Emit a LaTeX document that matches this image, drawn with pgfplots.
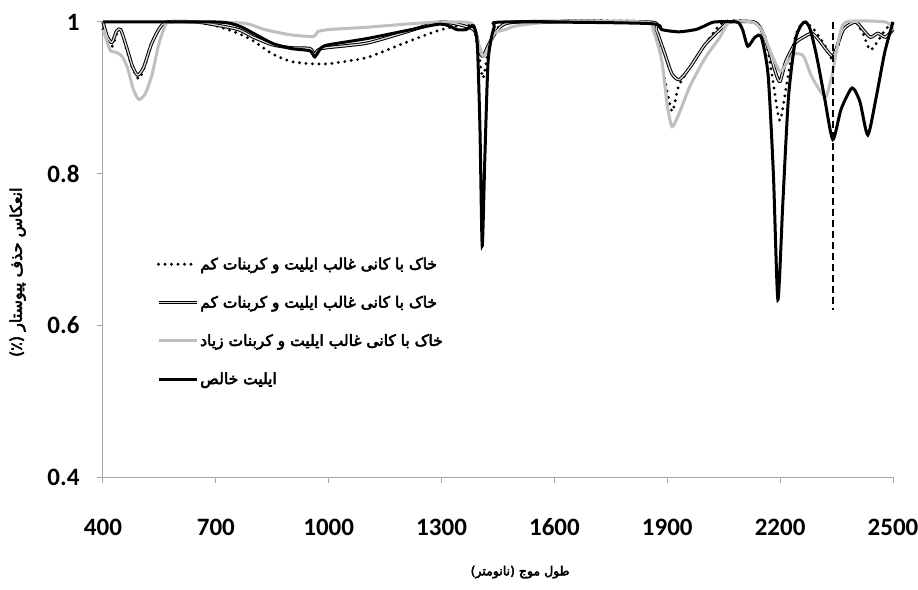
\documentclass[border=0pt]{standalone}
\usepackage{fontspec}
\usepackage{pgfplots}
\pgfplotsset{compat=1.18}
\setmainfont{Carlito}
\newfontfamily\arabicfont[Script=Arabic,FakeBold=3.5]{DejaVu Sans}
\TeXXeTstate=1
\definecolor{lgray}{HTML}{BFBFBF}
\definecolor{axgray}{HTML}{A6A6A6}
\newcommand{\fa}[1]{{\arabicfont\beginR #1\endR}}

\begin{document}
\begin{tikzpicture}
\useasboundingbox (-103pt,-112pt) rectangle (815pt,477pt);
\begin{axis}[scale only axis,width=790pt,height=455pt,
 xmin=400,xmax=2500,ymin=0.4,ymax=1,
 axis lines=left,axis line style={-,axgray,line width=1pt},
 tick style={axgray,line width=1pt},tick align=outside,major tick length=6pt,
 xtick={400,700,1000,1300,1600,1900,2200,2500},
 xticklabels={400,700,1000,1300,1600,1900,2200,2500},
 ytick={0.4,0.6,0.8,1},yticklabels={0.4,0.6,0.8,1},
 ticklabel style={font=\fontsize{25}{25}\selectfont\bfseries},
 xticklabel style={anchor=north,yshift=-32pt,text height=17pt,text depth=0pt},
 yticklabel style={xshift=-14pt},
 /pgf/number format/assume math mode=true,
 clip=false,
 legend cell align=left,
 legend style={draw=none,fill=none,at={(axis description cs:0.068,0.487)},anchor=north west,
   font=\fontsize{15.5}{17}\selectfont,row sep=21pt,inner sep=0pt},
 legend image code/.code={\draw[#1] (0pt,0pt) -- (38pt,0pt);},
 every axis plot/.append style={smooth,tension=0.4},
]
% sample 1: low carbonate (dotted)
\addplot[black,line width=3.2pt,line cap=round,dash pattern=on 0pt off 6.5pt] coordinates {
(400,0.99) (412,0.975) (425,0.968) (437,0.985) (447,0.99) (462,0.965) (478,0.94) (495,0.925)
(510,0.94) (528,0.97) (548,0.99) (570,1.0) (650,1.0) (700,0.995) (760,0.985) (800,0.975)
(850,0.958) (900,0.948) (950,0.945) (1000,0.945) (1100,0.953) (1200,0.972) (1300,0.99)
(1380,0.995) (1398,0.96) (1410,0.926) (1424,0.96) (1445,0.99) (1500,1.0) (1850,1.0)
(1875,0.975) (1895,0.92) (1913,0.882) (1930,0.915) (1960,0.94) (2000,0.97) (2050,1.0)
(2130,1.0) (2160,0.98) (2180,0.925) (2199,0.87) (2218,0.92) (2240,0.98) (2262,1.0)
(2290,0.99) (2320,0.968) (2342,0.95) (2368,0.99) (2400,1.0) (2420,0.985) (2439,0.963)
(2460,0.975) (2480,0.99) (2500,1.0)};
\addlegendentry{\fa{خاک با کانی غالب ایلیت و کربنات کم}}
% sample 2: low carbonate (double line)
\addplot[black,line width=1pt,double=lgray!60,double distance=1.3pt] coordinates {
(400,1.0) (412,0.98) (424,0.973) (436,0.988) (447,0.99) (462,0.968) (478,0.942) (492,0.93)
(508,0.94) (528,0.97) (548,0.99) (570,1.0) (650,1.0) (700,0.996) (760,0.99) (800,0.98)
(850,0.97) (900,0.966) (950,0.965) (963,0.957) (980,0.965) (1100,0.972) (1200,0.986)
(1300,1.0) (1385,0.99) (1400,0.962) (1410,0.955) (1425,0.97) (1450,0.99) (1500,1.0)
(1850,1.0) (1870,0.99) (1892,0.96) (1912,0.932) (1932,0.924) (1960,0.94) (2000,0.97)
(2040,0.99) (2065,1.0) (2130,1.0) (2150,0.99) (2172,0.96) (2190,0.93) (2200,0.922)
(2215,0.948) (2240,0.972) (2262,0.98) (2285,0.985) (2305,0.975) (2325,0.962) (2342,0.956)
(2368,0.99) (2400,1.0) (2420,0.99) (2440,0.98) (2460,0.985) (2480,0.98) (2500,0.99)};
\addlegendentry{\fa{خاک با کانی غالب ایلیت و کربنات کم}}
% sample 3: high carbonate (light grey)
\addplot[lgray,line width=3pt] coordinates {
(400,0.99) (410,0.975) (420,0.962) (435,0.96) (450,0.955) (465,0.94) (480,0.912) (495,0.898)
(512,0.905) (530,0.93) (548,0.97) (565,0.995) (580,1.0) (700,1.0) (780,0.998) (830,0.99)
(900,0.983) (960,0.981) (970,0.987) (1000,0.99) (1100,0.993) (1200,0.997) (1300,1.0)
(1380,0.998) (1398,0.972) (1410,0.955) (1422,0.962) (1440,0.985) (1470,0.99) (1500,0.995)
(1600,1.0) (1840,1.0) (1862,0.99) (1885,0.95) (1900,0.89) (1913,0.862) (1932,0.88)
(1960,0.915) (2000,0.952) (2040,0.98) (2065,1.0) (2125,1.0) (2150,0.99) (2175,0.96)
(2200,0.935) (2220,0.948) (2240,0.958) (2262,0.955) (2282,0.93) (2305,0.91) (2322,0.902)
(2338,0.93) (2355,0.975) (2375,1.0) (2480,1.0) (2500,0.99)};
\addlegendentry{\fa{خاک با کانی غالب ایلیت و کربنات زیاد}}
% pure illite (black)
\addplot[black,line width=3pt] coordinates {
(400,1.0) (700,1.0) (760,0.995) (800,0.985) (850,0.972) (900,0.965) (950,0.962) (963,0.954)
(980,0.966) (1000,0.97) (1100,0.978) (1200,0.988) (1290,0.997) (1320,0.995) (1340,0.99)
(1365,0.99) (1385,0.995) (1395,0.97) (1402,0.86) (1408,0.705) (1415,0.82) (1424,0.95)
(1440,0.993) (1465,1.0) (1850,0.998) (1885,0.99) (1930,0.987) (1975,0.99) (2000,0.995)
(2025,1.0) (2085,1.0) (2100,0.99) (2114,0.968) (2133,0.98) (2150,0.98) (2168,0.93)
(2182,0.8) (2194,0.634) (2207,0.76) (2222,0.9) (2240,0.975) (2256,0.996) (2268,1.0)
(2280,0.99) (2297,0.955) (2318,0.9) (2340,0.845) (2362,0.885) (2391,0.913) (2412,0.895) (2433,0.851)
(2455,0.9) (2478,0.96) (2500,1.0)};
\addlegendentry{\fa{ایلیت خالص}}
% dashed marker line
\addplot[black,line width=1.4pt,dash pattern=on 7pt off 4pt,sharp plot,forget plot] coordinates {(2340,1.0) (2340,0.62)};
\node[font=\fontsize{12.5}{15}\selectfont] at (axis description cs:0.528,-0.209) {\fa{طول موج (نانومتر)}};
\node[font=\fontsize{16}{18}\selectfont,rotate=90] at (axis description cs:-0.108,0.45) {\fa{انعکاس حذف پیوستار (٪)}};
\end{axis}
\end{tikzpicture}
\end{document}
